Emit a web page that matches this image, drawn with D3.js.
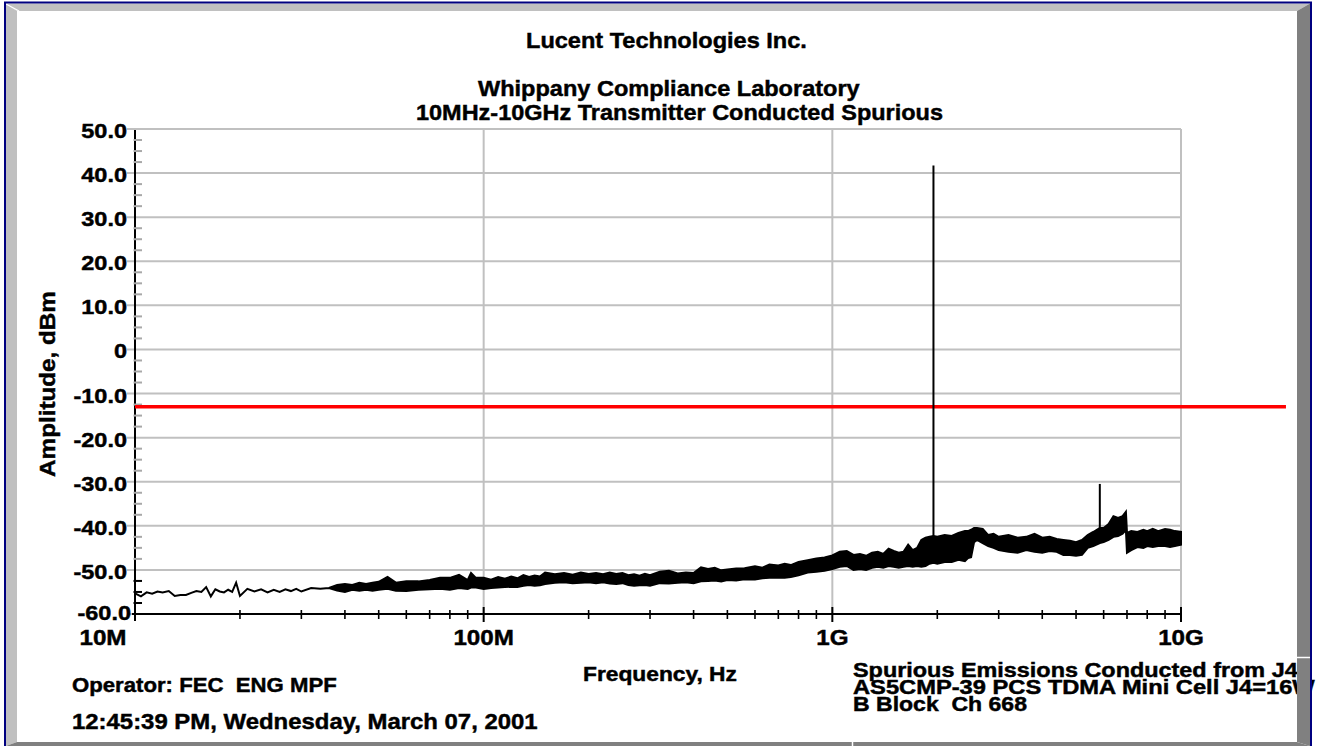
<!DOCTYPE html>
<html>
<head>
<meta charset="utf-8">
<script src="https://cdn.jsdelivr.net/npm/d3@7"></script>
<style>
  html, body { margin: 0; padding: 0; background: #fff; }
  svg { display: block; }
  text { font-family: "Liberation Sans", Arial, Helvetica, sans-serif; font-weight: bold; fill: #000;
         stroke: #000; stroke-width: 0.45px; white-space: pre; }
</style>
</head>
<body>
<svg id="chart" width="1318" height="746"></svg>
<script>
// ---- measured spectrum: sample frequency (MHz) with the trace's upper / lower level (dBm)
const freqMHz = [
  10, 10.4, 10.8, 11.2, 11.6, 12, 12.5, 13, 13.5, 14, 14.5, 15, 15.5, 16, 16.5, 17, 17.5, 18, 18.5, 19, 19.5,
  20, 21, 22, 23, 24, 25, 26, 27, 28, 29, 30, 32, 34, 36,
  38, 40, 42, 44, 46, 48, 50, 53, 56, 60, 65, 70, 75, 80, 85, 90, 92, 95,
  100, 105, 110, 115, 120, 125, 130, 135, 140, 145, 150, 160, 170, 180, 190,
  200, 210, 220, 230, 240, 250, 260, 270, 280, 290, 300, 320, 340, 360, 380,
  400, 420, 440, 460, 480, 500, 530, 560, 600, 630, 660, 700, 730, 760, 800, 850, 900, 950,
  1000, 1050, 1100, 1150, 1200, 1250, 1300, 1350, 1400, 1450, 1500, 1550, 1600, 1650, 1700, 1750,
  1800, 1850, 1900, 1950, 2000, 2100, 2200, 2300, 2400, 2450, 2500, 2550, 2600, 2700, 2800, 2900,
  3000, 3200, 3400, 3600, 3800, 4000, 4200, 4400, 4600, 4800, 5000, 5200, 5400, 5600, 5850,
  6000, 6200, 6400, 6600, 6800, 6950, 7000, 7200, 7500, 7800, 8000, 8300, 8600, 9000, 9300, 9600, 10000
];
const levelMax = [
  -55.3, -56.0, -55.1, -55.4, -54.9, -55.1, -54.8, -55.9, -55.7, -55.7, -55.2, -54.8, -55.0, -53.9, -56.0, -54.4, -54.9, -55.1, -54.5, -55.0, -52.9,
  -55.9, -54.3, -54.9, -54.4, -55.1, -54.5, -55.0, -54.4, -54.8, -54.3, -54.9, -54.1, -54.3, -54.1,
  -53.4, -53.2, -53.4, -52.9, -53.2, -52.9, -52.7, -51.6, -52.9, -52.6, -52.6, -52.3, -51.8, -51.8, -51.1, -52.3, -50.7, -51.8,
  -51.8, -52.2, -51.6, -52.0, -51.5, -51.9, -51.2, -51.6, -51.3, -51.5, -50.6, -51.0, -50.7, -51.1, -50.6,
  -50.9, -50.7, -51.0, -50.6, -50.9, -50.7, -51.2, -51.0, -51.3, -50.9, -51.2, -50.4, -50.2, -50.8, -50.6,
  -50.7, -49.4, -49.8, -49.5, -50.1, -49.9, -49.7, -49.6, -49.2, -49.5, -48.8, -49.0, -48.6, -48.9, -48.2, -47.8, -47.4, -47.2,
  -46.7, -45.9, -45.7, -46.6, -46.4, -46.8, -46.1, -45.9, -46.4, -45.2, -45.7, -46.1, -45.9, -44.3, -45.5, -45.0,
  -43.2, -42.7, -42.5, -42.3, -42.5, -42.1, -42.3, -41.6, -41.2, -41.2, -40.9, -40.5, -40.5, -40.7, -42.1, -41.8,
  -42.5, -42.1, -42.7, -42.5, -41.8, -42.7, -42.5, -43.0, -43.2, -43.4, -43.7, -43.2, -42.1, -41.4, -40.5,
  -40.5, -39.6, -37.8, -38.2, -37.8, -36.8, -41.6, -41.2, -41.4, -40.9, -41.2, -40.7, -41.2, -40.7, -40.9, -41.2, -41.4
];
const levelMin = [
  -55.3, -56.0, -55.1, -55.4, -54.9, -55.1, -54.8, -55.9, -55.7, -55.7, -55.2, -54.8, -55.0, -53.9, -56.0, -54.4, -54.9, -55.1, -54.5, -55.0, -52.9,
  -55.9, -54.3, -54.9, -54.4, -55.1, -54.5, -55.0, -54.4, -54.8, -54.3, -54.9, -54.1, -54.3, -54.1,
  -54.7, -55.0, -54.5, -54.7, -54.5, -54.7, -54.5, -54.3, -54.7, -54.8, -54.5, -54.4, -54.3, -54.5, -54.1, -54.3, -54.0, -54.0,
  -54.3, -54.1, -54.0, -53.9, -53.8, -53.9, -53.6, -53.4, -53.6, -53.5, -53.2, -52.9, -52.8, -53.0, -52.9,
  -52.8, -53.0, -52.8, -53.1, -53.2, -53.0, -53.4, -53.6, -53.5, -53.4, -53.6, -53.0, -53.1, -52.9, -52.8,
  -53.0, -52.6, -52.5, -52.4, -52.6, -52.3, -52.4, -52.1, -52.2, -51.9, -51.8, -51.7, -51.8, -51.6, -51.2, -50.6, -50.4, -50.2,
  -49.8, -49.3, -49.1, -50.0, -49.8, -50.0, -49.5, -49.3, -49.5, -49.1, -49.3, -49.5, -49.3, -49.1, -49.3, -49.1,
  -49.3, -49.1, -48.6, -48.4, -48.6, -48.2, -48.2, -47.7, -48.0, -47.3, -47.1, -43.7, -43.2, -43.9, -44.6, -45.0,
  -45.5, -45.9, -46.1, -45.5, -45.9, -46.1, -45.7, -45.9, -46.6, -46.6, -46.8, -46.6, -45.0, -44.6, -43.9,
  -43.7, -43.2, -42.5, -42.3, -41.8, -40.9, -46.1, -45.5, -44.8, -45.0, -44.6, -44.8, -44.6, -44.6, -44.8, -44.6, -44.3
];

// ---- narrow emissions: carrier and its 3rd harmonic
const spikeFreqMHz = [1950, 5850];
const spikePeak = [41.7, -30.5];

// ---- limit line (dBm)
const limitFreqMHz = [10, 20000];
const limitLevel = [-13, -13];

// ---- axes
const yTickValues = [50, 40, 30, 20, 10, 0, -10, -20, -30, -40, -50, -60];
const yTickLabels = ["50.0", "40.0", "30.0", "20.0", "10.0", "0", "-10.0", "-20.0", "-30.0", "-40.0", "-50.0", "-60.0"];
const xTickValues = [10, 100, 1000, 10000];
const xTickLabels = ["10M", "100M", "1G", "10G"];

// ---- captions
const titleLines = ["Lucent Technologies Inc.", "Whippany Compliance Laboratory", "10MHz-10GHz Transmitter Conducted Spurious"];
const yAxisTitle = "Amplitude, dBm";
const xAxisTitle = "Frequency, Hz";
const notesLeft = ["Operator: FEC  ENG MPF", "12:45:39 PM, Wednesday, March 07, 2001"];
const notesRight = ["Spurious Emissions Conducted from J4", "AS5CMP-39 PCS TDMA Mini Cell J4=16W", "B Block  Ch 668"];

// ================= drawing =================
const svg = d3.select("#chart");
const plot = { left: 135, right: 1181, top: 129, bottom: 614 };

const x = d3.scaleLog().domain([10, 10000]).range([plot.left, plot.right]);
const y = d3.scaleLinear().domain([-60, 50]).range([plot.bottom, plot.top]);

svg.append("rect").attr("width", 1318).attr("height", 746).attr("fill", "#fff");

// text helper: places a string and stretches it horizontally to a width or factor
function label(parent, str, px, py, o) {
  const t = parent.append("text")
    .attr("font-size", o.size)
    .attr("text-anchor", o.anchor || "start")
    .text(str);
  const w = t.node().getComputedTextLength();
  const sx = o.width ? o.width / w : (o.sx || 1);
  t.attr("transform", `translate(${px},${py})${o.rotate ? ` rotate(${o.rotate})` : ""} scale(${sx},1)`);
  return t;
}

// gridlines
const grid = svg.append("g").attr("stroke", "#c0c0c0").attr("stroke-width", 2);
grid.selectAll("line.h").data(yTickValues).join("line")
  .attr("x1", plot.left - 8).attr("x2", plot.right)
  .attr("y1", d => y(d)).attr("y2", d => y(d));
grid.selectAll("line.v").data(xTickValues.slice(1)).join("line")
  .attr("x1", d => x(d)).attr("x2", d => x(d))
  .attr("y1", plot.top).attr("y2", plot.bottom);

// axis lines
svg.append("line").attr("x1", plot.left).attr("x2", plot.left)
  .attr("y1", plot.top + 1).attr("y2", plot.bottom + 7)
  .attr("stroke", "#000").attr("stroke-width", 2);
svg.append("line").attr("x1", plot.left - 3).attr("x2", plot.right)
  .attr("y1", plot.bottom).attr("y2", plot.bottom)
  .attr("stroke", "#000").attr("stroke-width", 2);

// y minor ticks every 2.5 dB
const yMinor = d3.range(-57.5, 50, 2.5).filter(v => Math.abs(v % 10) > 0.01);
svg.append("g").selectAll("line").data(yMinor).join("line")
  .attr("x1", plot.left - 1.5).attr("x2", plot.left + 7)
  .attr("y1", d => y(d)).attr("y2", d => y(d))
  .attr("stroke", d => d < -50 ? "#000" : "#a8a8a8").attr("stroke-width", 2);

// x ticks: decades and 2..9 sub-divisions
const xMinor = [];
xTickValues.slice(0, -1).forEach(dec => { for (let m = 2; m <= 9; m++) xMinor.push(dec * m); });
svg.append("g").selectAll("line").data(xMinor).join("line")
  .attr("x1", d => x(d)).attr("x2", d => x(d))
  .attr("y1", plot.bottom - 4).attr("y2", plot.bottom + 5)
  .attr("stroke", "#000").attr("stroke-width", 1.6);
svg.append("g").selectAll("line").data(xTickValues.slice(1)).join("line")
  .attr("x1", d => x(d)).attr("x2", d => x(d))
  .attr("y1", plot.bottom - 7).attr("y2", plot.bottom + 8)
  .attr("stroke", "#000").attr("stroke-width", 2);

// limit line
const limitLine = d3.line().x((d, i) => x(limitFreqMHz[i])).y(d => y(d));
svg.append("path").datum(limitLevel)
  .attr("d", limitLine)
  .attr("fill", "none").attr("stroke", "#ff0000").attr("stroke-width", 3.5);

// spectrum trace as a filled min/max band
const trace = freqMHz.map((f, i) => ({ f, hi: levelMax[i], lo: levelMin[i] }));
const band = d3.area().x(d => x(d.f)).y0(d => y(d.lo)).y1(d => y(d.hi));
svg.append("path").datum(trace)
  .attr("d", band)
  .attr("fill", "#000").attr("stroke", "#000")
  .attr("stroke-width", 2).attr("stroke-linejoin", "miter");

// narrow spikes rising from the band
const nearest = f => d3.minIndex(freqMHz, v => Math.abs(Math.log(v / f)));
svg.append("g").selectAll("line").data(spikeFreqMHz).join("line")
  .attr("x1", d => x(d)).attr("x2", d => x(d))
  .attr("y1", (d, i) => y(spikePeak[i]))
  .attr("y2", d => y(levelMin[nearest(d)]))
  .attr("stroke", "#000").attr("stroke-width", 2);

// tick labels
const yLab = svg.append("g");
yTickValues.forEach((v, i) => {
  const last = i === yTickValues.length - 1;
  label(yLab, yTickLabels[i], last ? 131 : 127, y(v) + (last ? 6 : 9), { size: 21, anchor: "end", sx: 1.12 });
});
const xLab = svg.append("g");
xTickValues.forEach((v, i) => {
  label(xLab, xTickLabels[i], i === 0 ? 103 : x(v), 645, { size: 22, anchor: "middle", sx: 1.1 });
});

// titles
const titles = svg.append("g");
label(titles, titleLines[0], 526, 48, { size: 22, width: 281 });
label(titles, titleLines[1], 478, 96, { size: 22, width: 382 });
label(titles, titleLines[2], 416, 119.5, { size: 22, width: 527 });
label(titles, yAxisTitle, 55, 384, { size: 22, anchor: "middle", rotate: -90, width: 186 });
label(titles, xAxisTitle, 583, 681, { size: 20, width: 154 });

// notes
label(titles, notesLeft[0], 72, 691.5, { size: 20.5, width: 265 });
label(titles, notesLeft[1], 72, 729, { size: 22, width: 466 });
label(titles, notesRight[0], 853, 677, { size: 19.5, width: 445 });
label(titles, notesRight[1], 853, 694, { size: 19.5, width: 462 });
label(titles, notesRight[2], 853, 711, { size: 19.5, width: 174 });

// bevelled window frame
const frame = svg.append("g");
frame.append("polygon").attr("points", "6,3.5 1310,3.5 1297,11 17,11").attr("fill", "#c0c0c0");
frame.append("polygon").attr("points", "6,3.5 17,11 17,742 6,746").attr("fill", "#c0c0c0");
frame.append("polygon").attr("points", "1310,3.5 1310,746 1297,742 1297,11").attr("fill", "#808080");
frame.append("polygon").attr("points", "6,746 17,742 1297,742 1310,746").attr("fill", "#808080");
frame.append("line").attr("x1", 6).attr("y1", 4).attr("x2", 19).attr("y2", 11)
  .attr("stroke", "#fff").attr("stroke-width", 1.2);
frame.append("line").attr("x1", 852.5).attr("y1", 742).attr("x2", 852.5).attr("y2", 746)
  .attr("stroke", "#fff").attr("stroke-width", 1.5);
frame.append("line").attr("x1", 1297).attr("y1", 657.5).attr("x2", 1310).attr("y2", 657.5)
  .attr("stroke", "#fff").attr("stroke-width", 1.5);
frame.append("rect").attr("x", 5).attr("y", 2.5).attr("width", 1306).attr("height", 746)
  .attr("fill", "none").attr("stroke", "#000080").attr("stroke-width", 2);
</script>
</body>
</html>
